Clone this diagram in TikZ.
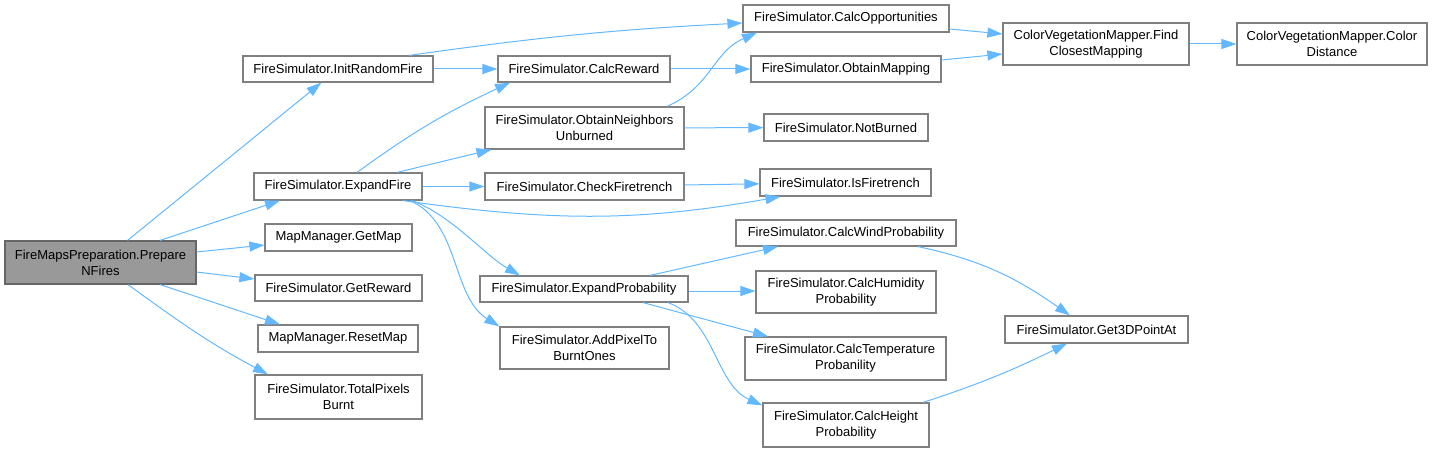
\documentclass[tikz,border=0pt]{standalone}
\usepackage{fontspec}
\setmainfont{Liberation Sans}
\usepackage{xcolor}
\usepackage{tikz}
\usetikzlibrary{
  arrows.meta
}
\definecolor{DoxEdge}{HTML}{63B8FF}
\definecolor{DoxBorder}{HTML}{808080}
\definecolor{DoxRoot}{HTML}{999999}
\definecolor{DoxRootBorder}{HTML}{666666}

\begin{document}
\begin{tikzpicture}[x=1pt,y=1pt,
    fn/.style 2 args={draw=DoxBorder,fill=white,line width=1.2pt,align=center,
      inner sep=0pt,minimum width=#1pt,minimum height=#2pt,
      font=\fontsize{13}{16}\selectfont},
    rootfn/.style={fill=DoxRoot,draw=DoxRootBorder},
    call/.style={draw=DoxEdge,line width=1pt,-{Triangle[length=15pt,width=10pt]}}]
  \useasboundingbox (0,0) rectangle (1433,-452);

  % callers and first level
  \node[fn={191}{43},rootfn] (root) at (100.5,-262.5) {FireMapsPreparation.Prepare\\NFires};
  \node[fn={190}{26}] (initfire) at (338,-69) {FireSimulator.InitRandomFire};
  \node[fn={168}{27}] (expfire) at (338,-186.5) {FireSimulator.ExpandFire};
  \node[fn={147}{27}] (getmap) at (338.5,-237.5) {MapManager.GetMap};
  \node[fn={167}{26}] (getreward) at (338.5,-288) {FireSimulator.GetReward};
  \node[fn={160}{27}] (resetmap) at (338,-338.5) {MapManager.ResetMap};
  \node[fn={167}{44}] (totalpx) at (338.5,-397) {FireSimulator.TotalPixels\\Burnt};

  % second level
  \node[fn={172}{26}] (calcreward) at (584,-69) {FireSimulator.CalcReward};
  \node[fn={199}{42}] (neighbors) at (584.5,-128) {FireSimulator.ObtainNeighbors\\Unburned};
  \node[fn={199}{27}] (checkft) at (584.5,-186.5) {FireSimulator.CheckFiretrench};
  \node[fn={208}{26}] (expprob) at (584,-289) {FireSimulator.ExpandProbability};
  \node[fn={169}{42}] (addpixel) at (584.5,-348) {FireSimulator.AddPixelTo\\BurntOnes};

  % third level
  \node[fn={206}{27}] (calcopp) at (846,-18.5) {FireSimulator.CalcOpportunities};
  \node[fn={190}{26}] (obtmap) at (846,-69) {FireSimulator.ObtainMapping};
  \node[fn={164}{27}] (notburned) at (846,-127.5) {FireSimulator.NotBurned};
  \node[fn={171}{27}] (isft) at (845.5,-182.5) {FireSimulator.IsFiretrench};
  \node[fn={220}{26}] (wind) at (846,-233) {FireSimulator.CalcWindProbability};
  \node[fn={180}{42}] (humid) at (846,-292) {FireSimulator.CalcHumidity\\Probability};
  \node[fn={201}{43}] (temp) at (845.5,-358.5) {FireSimulator.CalcTemperature\\Probanility};
  \node[fn={166}{44}] (height) at (846,-425) {FireSimulator.CalcHeight\\Probability};

  % last levels
  \node[fn={186}{42}] (findmap) at (1096,-44) {ColorVegetationMapper.Find\\ClosestMapping};
  \node[fn={190}{42}] (colordist) at (1332,-44) {ColorVegetationMapper.Color\\Distance};
  \node[fn={183}{27}] (get3d) at (1096.5,-329.5) {FireSimulator.Get3DPointAt};

  % calls from root
  \draw[call] (root) -- (initfire);
  \draw[call] ([xshift=59.5pt]root.north) -- ([xshift=-58pt]expfire.south);
  \draw[call] ([yshift=10.5pt]root.east) -- ([yshift=-7.5pt]getmap.west);
  \draw[call] ([yshift=-9.5pt]root.east) -- ([yshift=9pt]getreward.west);
  \draw[call] ([xshift=59.5pt]root.south) -- ([xshift=-58pt]resetmap.north);
  \draw[call] ([xshift=27.5pt]root.south) to[out=-36,in=152] ([xshift=-70.5pt]totalpx.north);

  % calls from InitRandomFire and ExpandFire
  \draw[call] ([xshift=71pt]initfire.north) to[out=8,in=183] ([yshift=-4.5pt]calcopp.west);
  \draw[call] (initfire) -- (calcreward);
  \draw[call] ([xshift=19pt]expfire.north) to[out=36,in=-155] ([xshift=-74pt]calcreward.south);
  \draw[call] ([xshift=59pt]expfire.north) -- ([xshift=-93pt]neighbors.south);
  \draw[call] (expfire) -- (checkft);
  \draw[call] ([xshift=65pt]expfire.south) to[out=-8,in=-170] ([xshift=-65pt]isft.south);
  \draw[call] ([xshift=74pt]expfire.south) .. controls +(40,-15) and +(-35,20) .. ([xshift=-64pt]expprob.north);
  \draw[call] ([xshift=72pt]expfire.south) .. controls +(50,-22) and +(-48,30) .. (addpixel.north west);

  % second level calls
  \draw[call] (calcreward) -- (obtmap);
  \draw[call] ([xshift=82.5pt]neighbors.north) .. controls +(45,20) and +(-45,-20) .. ([xshift=-89pt]calcopp.south);
  \draw[call] (neighbors) -- (notburned);
  \draw[call] (checkft) -- (isft);
  \draw[call] ([xshift=66pt]expprob.north) -- ([xshift=-68pt]wind.south);
  \draw[call] ([yshift=-2pt]expprob.east) -- ([yshift=1pt]humid.west);
  \draw[call] ([xshift=59pt]expprob.south) -- ([xshift=-77.5pt]temp.north);
  \draw[call] ([xshift=84pt]expprob.south) .. controls +(47,-17) and +(-47,21) .. ([yshift=-3pt]height.north west);

  % third level calls
  \draw[call] ([yshift=-10.5pt]calcopp.east) -- ([yshift=10pt]findmap.west);
  \draw[call] ([yshift=9pt]obtmap.east) -- ([yshift=-10pt]findmap.west);
  \draw[call] (findmap) -- (colordist);
  \draw[call] ([xshift=72pt]wind.south) to[out=-12,in=145] ([xshift=-26.5pt]get3d.north);
  \draw[call] ([xshift=77pt]height.north) to[out=18,in=-154] ([xshift=-29.5pt]get3d.south);
\end{tikzpicture}
\end{document}
